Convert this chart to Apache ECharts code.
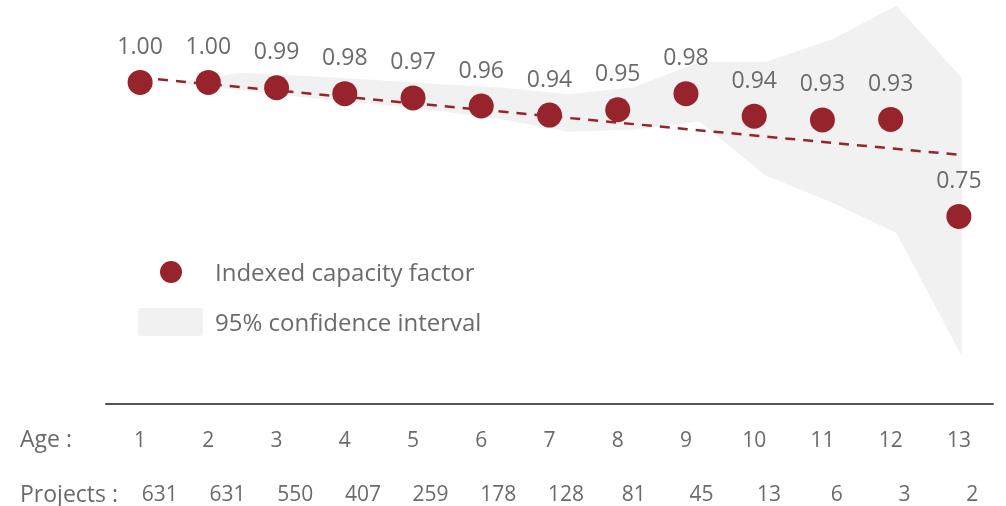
<!DOCTYPE html>
<html>
<head>
<meta charset="utf-8">
<script src="https://cdn.jsdelivr.net/npm/echarts@6/dist/echarts.min.js"></script>
<style>
html,body{margin:0;padding:0;background:#fff;}
#chart{width:1006px;height:506px;}
</style>
</head>
<body>
<div id="chart"></div>
<script>
// ---- data ----
const ages = ['1','2','3','4','5','6','7','8','9','10','11','12','13'];
const projects = ['631','631','550','407','259','178','128','81','45','13','6','3','2'];
const capacityFactor = [1.00, 1.00, 0.99, 0.979, 0.971, 0.956, 0.939, 0.949, 0.979, 0.937, 0.930, 0.931, 0.750];
const trend = [1.009, null, null, null, null, null, null, null, null, null, null, null, 0.865];
const ciLower = [0.999, 0.986, 0.972, 0.960, 0.947, 0.931, 0.908, 0.912, 0.927, 0.827, 0.777, 0.719, 0.488];
const ciUpper = [0.999, 1.018, 1.012, 1.005, 0.997, 0.990, 0.978, 0.991, 1.038, 1.038, 1.079, 1.143, 1.008];

const FONT = "'Open Sans', 'Lato', sans-serif";
const RED = '#97242c';
const GREY_TXT = '#6b6b6b';
const BAND = '#f1f1f1';

const chart = echarts.init(document.getElementById('chart'), null, {renderer: 'canvas'});

const yCommon = {type: 'value', min: 0.4, max: 1.15, show: false};

chart.setOption({
  animation: false,
  backgroundColor: '#fff',
  textStyle: {fontFamily: FONT},
  grid: [
    {left: 106, right: 13, top: 2, bottom: 102},
    {left: 175, right: 44, top: 2, bottom: 102},
    {left: 126, right: 0, top: 2, bottom: 102}
  ],
  xAxis: [
    {
      type: 'category', gridIndex: 0, data: ages, boundaryGap: true,
      axisLine: {show: true, lineStyle: {color: '#555', width: 2}},
      axisTick: {show: false},
      axisLabel: {color: GREY_TXT, fontSize: 21, fontFamily: FONT, margin: 27}
    },
    {type: 'category', gridIndex: 1, data: ages, boundaryGap: false, show: false},
    {
      type: 'category', gridIndex: 2, data: projects, boundaryGap: true,
      axisLine: {show: false}, axisTick: {show: false}, splitLine: {show: false},
      axisLabel: {color: GREY_TXT, fontSize: 21, fontFamily: FONT, margin: 84}
    }
  ],
  yAxis: [
    Object.assign({gridIndex: 0}, yCommon),
    Object.assign({gridIndex: 1}, yCommon),
    Object.assign({gridIndex: 2}, yCommon)
  ],
  series: [
    {
      name: 'ci-lower', type: 'line', xAxisIndex: 1, yAxisIndex: 1,
      data: ciLower, stack: 'ci', symbol: 'none', silent: true,
      lineStyle: {opacity: 0}, areaStyle: {opacity: 0}, z: 1
    },
    {
      name: '95% confidence interval', type: 'line', xAxisIndex: 1, yAxisIndex: 1,
      data: ciUpper.map((u, i) => +(u - ciLower[i]).toFixed(4)),
      stack: 'ci', symbol: 'none', silent: true,
      lineStyle: {opacity: 0}, areaStyle: {color: BAND, opacity: 1}, z: 1
    },
    {
      name: 'trend', type: 'line', xAxisIndex: 0, yAxisIndex: 0,
      data: trend, connectNulls: true, symbol: 'none',
      lineStyle: {color: RED, width: 2.5, type: [10, 8]}, z: 2
    },
    {
      name: 'Indexed capacity factor', type: 'scatter', xAxisIndex: 0, yAxisIndex: 0,
      data: capacityFactor, symbol: 'circle', symbolSize: 25,
      itemStyle: {color: RED, opacity: 1},
      label: {
        show: true, position: 'top', distance: 11,
        color: GREY_TXT, fontSize: 23, fontFamily: FONT,
        formatter: p => p.value.toFixed(2)
      },
      z: 3
    }
  ],
  graphic: [
    {type: 'circle', shape: {cx: 171, cy: 272, r: 11}, style: {fill: RED}},
    {type: 'text', left: 215, top: 262, style: {text: 'Indexed capacity factor', fill: GREY_TXT, font: '24px ' + FONT}},
    {type: 'rect', shape: {x: 138, y: 308, width: 65, height: 28, r: 3}, style: {fill: BAND}},
    {type: 'text', left: 215, top: 312, style: {text: '95% confidence interval', fill: GREY_TXT, font: '24px ' + FONT}},
    {type: 'text', left: 20, top: 429, style: {text: 'Age :', fill: GREY_TXT, font: '23px ' + FONT}},
    {type: 'text', left: 20, top: 484, style: {text: 'Projects :', fill: GREY_TXT, font: '23px ' + FONT}}
  ]
});
</script>
</body>
</html>
